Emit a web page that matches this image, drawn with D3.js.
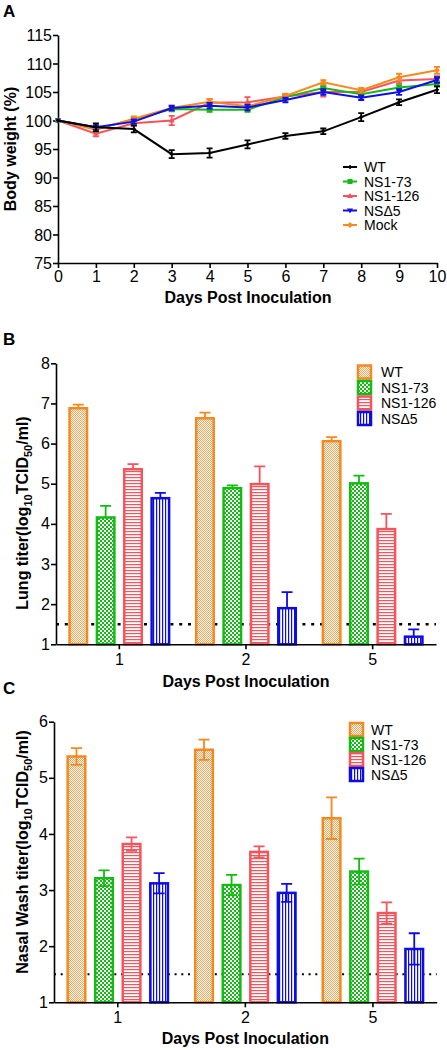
<!DOCTYPE html>
<html><head><meta charset="utf-8">
<script src="https://cdn.jsdelivr.net/npm/d3@7"></script>
<style>
body{margin:0;background:#fff;}
svg{display:block;font-family:"Liberation Sans",Arial,sans-serif;}
</style></head>
<body><svg id="c" width="447" height="1050"></svg>
<script>
// ---------- Panel A data ----------
const days = [0,1,2,3,4,5,6,7,8,9,10];
const seriesA = ["WT","NS1-73","NS1-126","NSΔ5","Mock"];
const wtWeight   = [100,98.8,98.5,94.1,94.3,95.8,97.3,98.1,100.6,103.2,105.4];
const ns73Weight = [100,98.5,100.2,102.0,101.9,101.9,104.1,105.7,104.6,105.8,106.4];
const ns126Weight= [100,97.7,99.5,100.0,103.1,103.2,104.2,105.0,105.0,107.0,107.3];
const nsd5Weight = [100,98.8,99.8,102.2,102.6,102.3,103.6,105.0,104.0,105.0,107.1];
const mockWeight = [100,98.4,100.3,102.2,103.3,102.5,104.3,106.7,105.3,107.6,108.8];
const wtErr   = [0,0.7,0.6,0.7,0.8,0.7,0.5,0.5,0.7,0.5,0.6];
const ns73Err = [0,0.4,0.4,0.4,0.4,0.4,0.4,0.4,0.4,0.4,0.4];
const ns126Err= [0,0.5,0.4,0.8,0.6,0.9,0.4,0.8,0.4,0.5,0.5];
const nsd5Err = [0,0.4,0.4,0.4,0.5,0.5,0.4,0.5,0.4,0.5,0.5];
const mockErr = [0,0.4,0.4,0.4,0.5,0.4,0.4,0.4,0.4,0.6,0.6];
const yTicksA = [75,80,85,90,95,100,105,110,115];

// ---------- Panel B/C data ----------
const dayCats = ["1","2","5"];
const seriesB = ["WT","NS1-73","NS1-126","NSΔ5"];
const lungWT   = [6.88,6.63,6.06];
const lung73   = [4.16,4.89,5.01];
const lung126  = [5.36,4.99,3.87];
const lungD5   = [4.64,1.90,1.19];
const lungWTe  = [0.09,0.14,0.10];
const lung73e  = [0.29,0.07,0.19];
const lung126e = [0.13,0.44,0.38];
const lungD5e  = [0.13,0.40,0.18];
const nasalWT  = [5.38,5.50,4.28];
const nasal73  = [3.21,3.09,3.33];
const nasal126 = [3.82,3.68,2.59];
const nasalD5  = [3.12,2.95,1.95];
const nasalWTe = [0.15,0.18,0.37];
const nasal73e = [0.14,0.18,0.23];
const nasal126e= [0.12,0.10,0.19];
const nasalD5e = [0.18,0.16,0.28];
const limitOfDetection = 1.5;
const yTicksB = [1,2,3,4,5,6,7,8];
const yTicksC = [1,2,3,4,5,6];

const colA = {"WT":"#000000","NS1-73":"#16b816","NS1-126":"#f5545c","NSΔ5":"#1010e6","Mock":"#f78a1e"};
const colB = {"WT":"#f7871f","NS1-73":"#14bb14","NS1-126":"#f5545c","NSΔ5":"#0c0ce6"};
const patId = {"WT":"pWT","NS1-73":"p73","NS1-126":"p126","NSΔ5":"pD5"};

const svg = d3.select("#c");
const defs = svg.append("defs");
// patterns
{
  let p = defs.append("pattern").attr("id","pWT").attr("patternUnits","userSpaceOnUse").attr("width",2).attr("height",2);
  p.append("rect").attr("width",2).attr("height",2).attr("fill","#fff");
  p.append("rect").attr("x",0).attr("y",0).attr("width",1).attr("height",1).attr("fill",colB["WT"]).attr("opacity",0.75);
  p.append("rect").attr("x",1).attr("y",1).attr("width",1).attr("height",1).attr("fill",colB["WT"]).attr("opacity",0.75);
  p = defs.append("pattern").attr("id","p73").attr("patternUnits","userSpaceOnUse").attr("width",4).attr("height",4);
  p.append("rect").attr("width",4).attr("height",4).attr("fill","#fff");
  p.append("rect").attr("x",0).attr("y",0).attr("width",2).attr("height",2).attr("fill",colB["NS1-73"]);
  p.append("rect").attr("x",2).attr("y",2).attr("width",2).attr("height",2).attr("fill",colB["NS1-73"]);
  p = defs.append("pattern").attr("id","p126").attr("patternUnits","userSpaceOnUse").attr("width",3).attr("height",3);
  p.append("rect").attr("width",3).attr("height",3).attr("fill","#fff");
  p.append("rect").attr("x",0).attr("y",0).attr("width",3).attr("height",1.2).attr("fill",colB["NS1-126"]);
  p = defs.append("pattern").attr("id","pD5").attr("patternUnits","userSpaceOnUse").attr("width",3).attr("height",3);
  p.append("rect").attr("width",3).attr("height",3).attr("fill","#fff");
  p.append("rect").attr("x",0).attr("y",0).attr("width",1.2).attr("height",3).attr("fill",colB["NSΔ5"]);
}

function styleAxis(g){
  g.selectAll("path.domain").attr("stroke","#000").attr("stroke-width",1.6);
  g.selectAll(".tick line").attr("stroke","#000").attr("stroke-width",1.6);
  g.selectAll(".tick text").attr("font-size",16).attr("font-family","Liberation Sans, Arial, sans-serif").attr("fill","#000");
}

// ================= Panel A =================
const xA = d3.scaleLinear().domain([0,10]).range([58,437]);
const yA = d3.scaleLinear().domain([75,115]).range([263,35]);
const gA = svg.append("g");
gA.append("text").attr("x",3).attr("y",17).attr("font-size",17).attr("font-weight","bold").text("A");
const axAx = gA.append("g").attr("transform",`translate(0,${yA(75)})`).call(d3.axisBottom(xA).tickValues(days).tickSize(5).tickSizeOuter(0).tickPadding(3));
styleAxis(axAx);
const axAy = gA.append("g").attr("transform",`translate(${xA(0)},0)`).call(d3.axisLeft(yA).tickValues(yTicksA).tickSize(5).tickSizeOuter(0).tickPadding(1));
styleAxis(axAy);
axAy.selectAll(".tick text").attr("dy","0.36em");
gA.append("text").attr("x",248).attr("y",303).attr("text-anchor","middle").attr("font-size",16).attr("font-weight","bold").text("Days Post Inoculation");
gA.append("text").attr("transform",`translate(16,${(yA(75)+yA(115))/2}) rotate(-90)`).attr("text-anchor","middle").attr("font-size",16).attr("font-weight","bold").text("Body weight (%)");

const dataA = [
  {name:"WT",v:wtWeight,e:wtErr},
  {name:"NS1-73",v:ns73Weight,e:ns73Err},
  {name:"NS1-126",v:ns126Weight,e:ns126Err},
  {name:"NSΔ5",v:nsd5Weight,e:nsd5Err},
  {name:"Mock",v:mockWeight,e:mockErr}
];
const drawOrder = ["NS1-126","NS1-73","Mock","NSΔ5","WT"];
const line = d3.line().x((d,i)=>xA(days[i])).y(d=>yA(d));
function marker(g,name,x,y){
  const c = colA[name];
  if(name==="WT"){ g.append("path").attr("d",`M${x-2},${y}h4M${x},${y-2}v4`).attr("stroke",c).attr("stroke-width",1.5); }
  else if(name==="NS1-73"){ g.append("rect").attr("x",x-2.5).attr("y",y-2.5).attr("width",5).attr("height",5).attr("fill",c); }
  else if(name==="NS1-126"){ g.append("path").attr("d",`M${x},${y-3}L${x+3},${y+2}L${x-3},${y+2}Z`).attr("fill",c); }
  else if(name==="NSΔ5"){ g.append("path").attr("d",`M${x},${y+3}L${x+3},${y-2}L${x-3},${y-2}Z`).attr("fill",c); }
  else { g.append("path").attr("d",`M${x},${y-3}L${x+3},${y}L${x},${y+3}L${x-3},${y}Z`).attr("fill",c); }
}
drawOrder.forEach(nm=>{
  const s = dataA.find(d=>d.name===nm);
  const g = gA.append("g");
  g.append("path").attr("d",line(s.v)).attr("fill","none").attr("stroke",colA[nm]).attr("stroke-width",2);
  s.v.forEach((v,i)=>{
    const e = s.e[i];
    if(e>0){
      const x = xA(days[i]);
      g.append("path").attr("d",`M${x},${yA(v+e)}V${yA(v-e)}M${x-3},${yA(v+e)}h6M${x-3},${yA(v-e)}h6`).attr("stroke",colA[nm]).attr("stroke-width",1.8).attr("fill","none");
    }
    marker(g,nm,xA(days[i]),yA(v));
  });
});
// legend A
seriesA.forEach((nm,i)=>{
  const y = 167 + i*14.5;
  gA.append("line").attr("x1",343).attr("x2",357).attr("y1",y).attr("y2",y).attr("stroke",colA[nm]).attr("stroke-width",2);
  marker(gA,nm,350,y);
  gA.append("text").attr("x",364).attr("y",y).attr("dy","0.36em").attr("font-size",14).text(nm);
});

// ================= Bar panels =================
function barPanel(opt){
  const g = svg.append("g");
  const x0 = d3.scaleBand().domain(dayCats).range(opt.xr).paddingInner(0).paddingOuter(0);
  const x1 = d3.scaleBand().domain(seriesB).range([0,x0.bandwidth()]).paddingInner(0.27).paddingOuter(0.45);
  const y = d3.scaleLinear().domain(opt.yd).range(opt.yr);
  g.append("text").attr("x",3).attr("y",opt.letterY).attr("font-size",17).attr("font-weight","bold").text(opt.letter);
  // LOD line
  g.append("line").attr("x1",opt.xr[0]).attr("x2",opt.xr[1]).attr("y1",y(limitOfDetection)).attr("y2",y(limitOfDetection))
    .attr("stroke","#000").attr("stroke-width",opt.dotW).attr("stroke-dasharray",opt.dash);
  const vals = opt.vals, errs = opt.errs;
  seriesB.forEach((s,si)=>{
    dayCats.forEach((d,di)=>{
      const v = vals[si][di], e = errs[si][di];
      const bx = x0(d)+x1(s), bw = x1.bandwidth();
      const cx = bx + bw/2;
      const gg = g.append("g");
      if(opt.both){
        // bar first, error on top
        gg.append("rect").attr("x",bx+1.25).attr("y",y(v)).attr("width",bw-2.5).attr("height",y(opt.yd[0])-y(v))
          .attr("fill",`url(#${patId[s]})`).attr("stroke",colB[s]).attr("stroke-width",2.5);
        gg.append("path").attr("d",`M${cx},${y(v+e)}V${y(v-e)}M${cx-5.5},${y(v+e)}h11M${cx-5.5},${y(v-e)}h11`)
          .attr("stroke",colB[s]).attr("stroke-width",1.8).attr("fill","none");
      } else {
        gg.append("path").attr("d",`M${cx},${y(v+e)}V${y(v)}M${cx-5.5},${y(v+e)}h11`)
          .attr("stroke",colB[s]).attr("stroke-width",1.8).attr("fill","none");
        gg.append("rect").attr("x",bx+1.25).attr("y",y(v)).attr("width",bw-2.5).attr("height",y(opt.yd[0])-y(v))
          .attr("fill",`url(#${patId[s]})`).attr("stroke",colB[s]).attr("stroke-width",2.5);
      }
    });
  });
  const ax = g.append("g").attr("transform",`translate(0,${y(opt.yd[0])})`).call(d3.axisBottom(x0).tickSize(5).tickSizeOuter(0).tickPadding(4));
  styleAxis(ax);
  const ay = g.append("g").attr("transform",`translate(${opt.xr[0]},0)`).call(d3.axisLeft(y).tickValues(opt.yt).tickSize(5).tickSizeOuter(0).tickPadding(1).tickFormat(d3.format("d")));
  styleAxis(ay);
  g.append("text").attr("x",(opt.xr[0]+opt.xr[1])/2).attr("y",opt.titleY).attr("text-anchor","middle").attr("font-size",16).attr("font-weight","bold").text("Days Post Inoculation");
  const yl = g.append("text").attr("transform",`translate(${opt.ylX},${opt.ylY}) rotate(-90)`).attr("text-anchor","middle").attr("font-size",16).attr("font-weight","bold");
  yl.append("tspan").text(opt.ylabel+"(log");
  yl.append("tspan").attr("font-size",11).attr("dy",4).text("10");
  yl.append("tspan").attr("dy",-4).text("TCID");
  yl.append("tspan").attr("font-size",11).attr("dy",4).text("50");
  yl.append("tspan").attr("dy",-4).text("/ml)");
  // legend
  seriesB.forEach((s,i)=>{
    const ly = opt.legY + i*opt.legStep;
    g.append("rect").attr("x",opt.legX).attr("y",ly-6.5).attr("width",13).attr("height",13)
      .attr("fill",`url(#${patId[s]})`).attr("stroke",colB[s]).attr("stroke-width",2.5);
    g.append("text").attr("x",opt.legX+opt.legTx).attr("y",ly).attr("dy","0.36em").attr("font-size",14).text(s);
  });
}

barPanel({
  letter:"B", letterY:345, xr:[56,436], yd:[1,8], yr:[644.3,363.3], yt:yTicksB,
  vals:[lungWT,lung73,lung126,lungD5], errs:[lungWTe,lung73e,lung126e,lungD5e], both:false,
  dotW:2.5, dash:"3,5.8", titleY:687, ylX:28, ylY:513, ylabel:"Lung titer",
  legX:358, legY:372, legStep:15.5, legTx:23
});
barPanel({
  letter:"C", letterY:694, xr:[54,436.7], yd:[1,6], yr:[1002.3,721.7], yt:yTicksC,
  vals:[nasalWT,nasal73,nasal126,nasalD5], errs:[nasalWTe,nasal73e,nasal126e,nasalD5e], both:true,
  dotW:2, dash:"2,4.7", titleY:1044, ylX:28, ylY:852, ylabel:"Nasal Wash titer",
  legX:350, legY:729.5, legStep:15, legTx:21
});
</script></body></html>
